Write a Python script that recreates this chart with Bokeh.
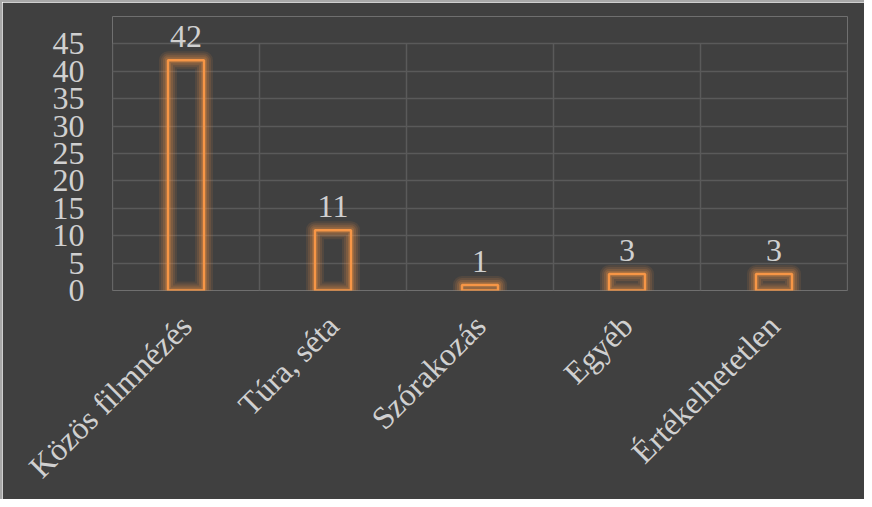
import math
from bokeh.plotting import figure
from bokeh.models import ColumnDataSource, FixedTicker, Range1d, LabelSet
from bokeh.embed import file_html
from bokeh.resources import INLINE

categories = ["Közös filmnézés", "Túra, séta", "Szórakozás", "Egyéb", "Értékelhetetlen"]
values = [42, 11, 1, 3, 3]
y_ticks = [0, 5, 10, 15, 20, 25, 30, 35, 40, 45]

BG = "#404040"
ORANGE = "#f79646"
TXT = "#d0d0d0"
GRID = "#5a5a5a"
FONT = "Liberation Serif"

n = len(categories)
xs = [i + 0.5 for i in range(n)]
src = ColumnDataSource(dict(x=xs, top=values, lbl=[str(v) for v in values]))

p = figure(width=864, height=499, output_backend="svg", toolbar_location=None,
           x_range=Range1d(0, n), y_range=Range1d(0, 50),
           min_border_left=110, min_border_right=19, min_border_top=14, min_border_bottom=211)
p.background_fill_color = BG
p.border_fill_color = BG
p.outline_line_color = None
p.styles = {"border-left": "2px solid #a8a8a8", "border-top": "2px solid #a8a8a8"}

# vertical category gridlines, limited to the tick span
bounds = list(range(n + 1))
p.segment(x0=bounds, y0=[y_ticks[0]] * len(bounds), x1=bounds, y1=[y_ticks[-1]] * len(bounds),
          line_color=GRID, line_width=1.5)
p.xgrid.visible = False
p.ygrid.ticker = FixedTicker(ticks=y_ticks)
p.ygrid.grid_line_color = GRID
p.ygrid.grid_line_width = 1.5

# glow
for w, a in [(18, 0.10), (14, 0.12), (10, 0.16), (6, 0.22)]:
    p.vbar(x="x", top="top", bottom=0, width=0.245, source=src, fill_alpha=0,
           line_color=ORANGE, line_width=w, line_alpha=a, line_join="round")
p.vbar(x="x", top="top", bottom=0, width=0.245, source=src, fill_alpha=0,
       line_color=ORANGE, line_width=2.5)

p.add_layout(LabelSet(x="x", y="top", text="lbl", source=src, text_align="center",
                      text_baseline="bottom", y_offset=13, text_font=FONT,
                      text_font_size="32px", text_color=TXT))

p.xaxis.ticker = FixedTicker(ticks=xs)
p.xaxis.major_label_overrides = {x: c for x, c in zip(xs, categories)}
p.xaxis.major_label_orientation = math.pi / 4
p.xaxis.axis_line_color = None
p.xaxis.major_tick_line_color = None
p.xaxis.minor_tick_line_color = None
p.xaxis.major_label_standoff = 24
p.xaxis.major_label_text_font = FONT
p.xaxis.major_label_text_font_size = "32px"
p.xaxis.major_label_text_color = TXT

p.yaxis.ticker = FixedTicker(ticks=y_ticks)
p.yaxis.axis_line_color = None
p.yaxis.major_tick_line_color = None
p.yaxis.minor_tick_line_color = None
p.yaxis.major_tick_out = 0
p.yaxis.major_label_standoff = 28
p.yaxis.major_label_text_font = FONT
p.yaxis.major_label_text_font_size = "32px"
p.yaxis.major_label_text_color = TXT

open("out.html", "w").write(file_html(p, INLINE))
